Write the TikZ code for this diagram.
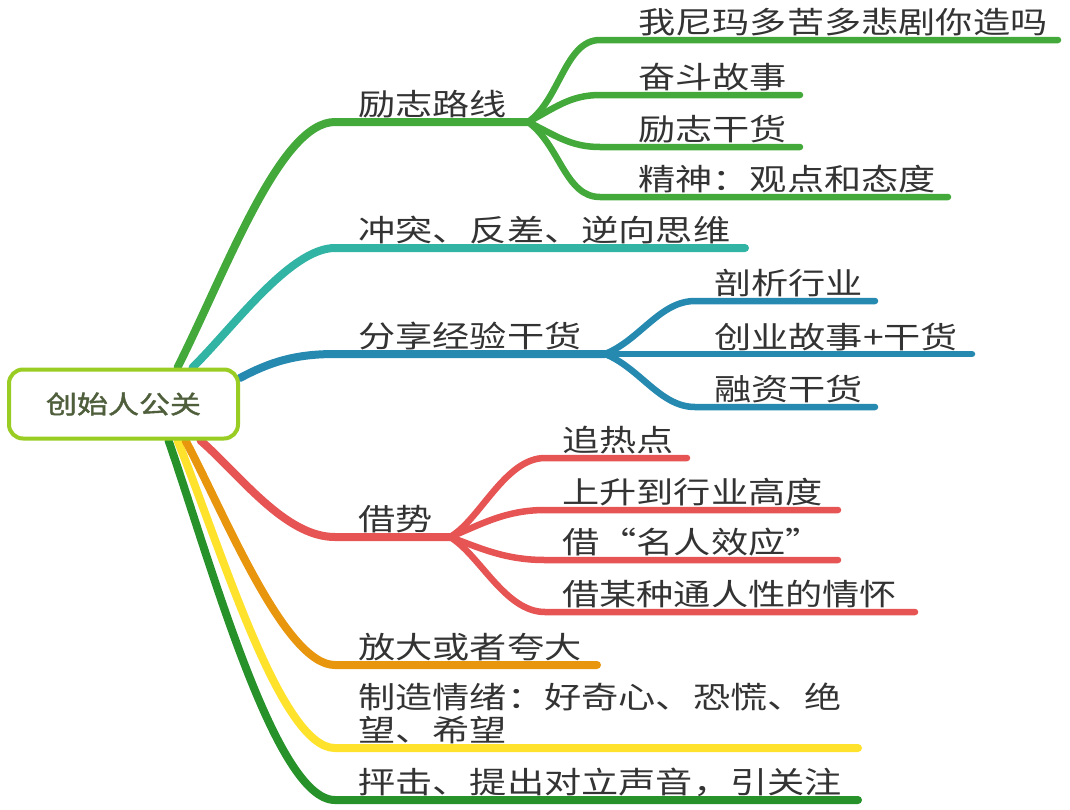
\documentclass[tikz,border=0pt]{standalone}
\usepackage{fontspec}
\newfontfamily\cjk[FakeStretch=1.24]{Noto Sans CJK SC}
\newfontfamily\cjkb[FakeStretch=1.24,FakeBold=1.6]{Noto Sans CJK SC}
\usetikzlibrary{backgrounds,calc}
\definecolor{cGreen}{HTML}{43A93A}
\definecolor{cTeal}{HTML}{32B4A4}
\definecolor{cBlue}{HTML}{2589B0}
\definecolor{cRed}{HTML}{E65454}
\definecolor{cOrange}{HTML}{E8960E}
\definecolor{cYellow}{HTML}{FFE22C}
\definecolor{cDark}{HTML}{27922A}
\definecolor{cLime}{HTML}{9ACD23}
\definecolor{cOlive}{HTML}{4F5F3C}
\definecolor{cText}{HTML}{333333}
\begin{document}
\begin{tikzpicture}[x=1pt,y=-1pt,
  topic/.style={anchor=base west, inner sep=0pt, font={\cjk\fontsize{30}{33}\selectfont}, text=cText},
  mainline/.style={line width=8pt, line cap=round},
  subline/.style={line width=6.5pt, line cap=round},
  rootbox/.style={draw=cLime, line width=4pt, rounded corners=14pt, fill=white,
    minimum width=229pt, minimum height=69pt, inner sep=0pt,
    font={\cjkb\fontsize{25}{28}\selectfont}, text=cOlive}
]
\useasboundingbox (0,0) rectangle (1070,809);

% root
\node[rootbox] (root) at (123.5,404) {创始人公关};

% topic texts
\node[topic] (t1) at (358,115) {励志路线};
\node[topic] (t1a) at (638,33) {我尼玛多苦多悲剧你造吗};
\node[topic] (t1b) at (638,88) {奋斗故事};
\node[topic] (t1c) at (638,140) {励志干货};
\node[topic] (t1d) at (638,190) {精神：观点和态度};
\node[topic] (t2) at (358,241) {冲突、反差、逆向思维};
\node[topic] (t3) at (358,347) {分享经验干货};
\node[topic] (t3a) at (714,294) {剖析行业};
\node[topic] (t3b) at (714,348) {创业故事+干货};
\node[topic] (t3c) at (714,400) {融资干货};
\node[topic] (t4) at (358,530) {借势};
\node[topic] (t4a) at (562,451) {追热点};
\node[topic] (t4b) at (562,503) {上升到行业高度};
\node[topic] (t4c) at (562,553) {借“名人效应”};
\node[topic] (t4d) at (562,605) {借某种通人性的情怀};
\node[topic] (t5) at (358,658) {放大或者夸大};
\node[topic, align=left] (t6) at (358,741) {制造情绪：好奇心、恐慌、绝\\望、希望};
\node[topic] (t7) at (358,793) {抨击、提出对立声音，引关注};

% coordinates for line ends
\coordinate (g1) at (335,122);  \coordinate (gF) at (528,122);
\coordinate (g1a) at (600,40);  \coordinate (g1ae) at (1058,40);
\coordinate (g1b) at (600,95);  \coordinate (g1be) at (800,95);
\coordinate (g1c) at (600,147); \coordinate (g1ce) at (800,147);
\coordinate (g1d) at (600,197); \coordinate (g1de) at (948,197);
\coordinate (g2) at (335,248);  \coordinate (g2e) at (745,248);
\coordinate (g3) at (335,354);  \coordinate (bF) at (605,354);
\coordinate (g3a) at (695,301); \coordinate (g3ae) at (875,301);
\coordinate (g3be) at (972,354);
\coordinate (g3c) at (695,407); \coordinate (g3ce) at (875,407);
\coordinate (g4) at (335,537);  \coordinate (rF) at (450,537);
\coordinate (g4a) at (545,458); \coordinate (g4ae) at (687,458);
\coordinate (g4b) at (545,510); \coordinate (g4be) at (838,510);
\coordinate (g4c) at (545,560); \coordinate (g4ce) at (838,560);
\coordinate (g4d) at (545,612); \coordinate (g4de) at (915,612);
\coordinate (g5) at (335,665);  \coordinate (g5e) at (597,665);
\coordinate (g6) at (335,748);  \coordinate (g6e) at (858,748);
\coordinate (g7) at (335,800);  \coordinate (g7e) at (858,800);

\begin{scope}[on background layer]
% main branches
\draw[mainline, cDark] ([xshift=45pt]root.south) .. controls (210,560) and (275,800) .. (g7) -- (g7e);
\draw[mainline, cYellow] ([xshift=54pt]root.south) .. controls (220,545) and (280,748) .. (g6) -- (g6e);
\draw[mainline, cOrange] ([xshift=62pt]root.south) .. controls (225,515) and (285,665) .. (g5) -- (g5e);
\draw[mainline, cRed] ([xshift=77pt]root.south) .. controls (240,475) and (285,537) .. (g4) -- (rF);
\draw[mainline, cBlue] ([yshift=26pt]root.east) .. controls (270,362) and (295,354) .. (g3) -- (bF);
\draw[mainline, cTeal] ([xshift=69pt]root.north) .. controls (232,329) and (290,248) .. (g2) -- (g2e);
\draw[mainline, cGreen] ([xshift=54pt]root.north) .. controls (227,269) and (280,122) .. (g1) -- (gF);

% green sub-branches
\draw[subline, cGreen] (gF) .. controls (560,100) and (565,40) .. (g1a) -- (g1ae);
\draw[subline, cGreen] (gF) .. controls (555,108) and (570,95) .. (g1b) -- (g1be);
\draw[subline, cGreen] (gF) .. controls (555,135) and (570,147) .. (g1c) -- (g1ce);
\draw[subline, cGreen] (gF) .. controls (560,145) and (565,197) .. (g1d) -- (g1de);

% blue sub-branches
\draw[subline, cBlue] (bF) .. controls (640,340) and (660,301) .. (g3a) -- (g3ae);
\draw[subline, cBlue] (bF) -- (g3be);
\draw[subline, cBlue] (bF) .. controls (640,368) and (660,407) .. (g3c) -- (g3ce);

% red sub-branches
\draw[subline, cRed] (rF) .. controls (480,520) and (505,458) .. (g4a) -- (g4ae);
\draw[subline, cRed] (rF) .. controls (480,525) and (505,510) .. (g4b) -- (g4be);
\draw[subline, cRed] (rF) .. controls (480,548) and (505,560) .. (g4c) -- (g4ce);
\draw[subline, cRed] (rF) .. controls (480,555) and (505,612) .. (g4d) -- (g4de);
\end{scope}
\end{tikzpicture}
\end{document}
